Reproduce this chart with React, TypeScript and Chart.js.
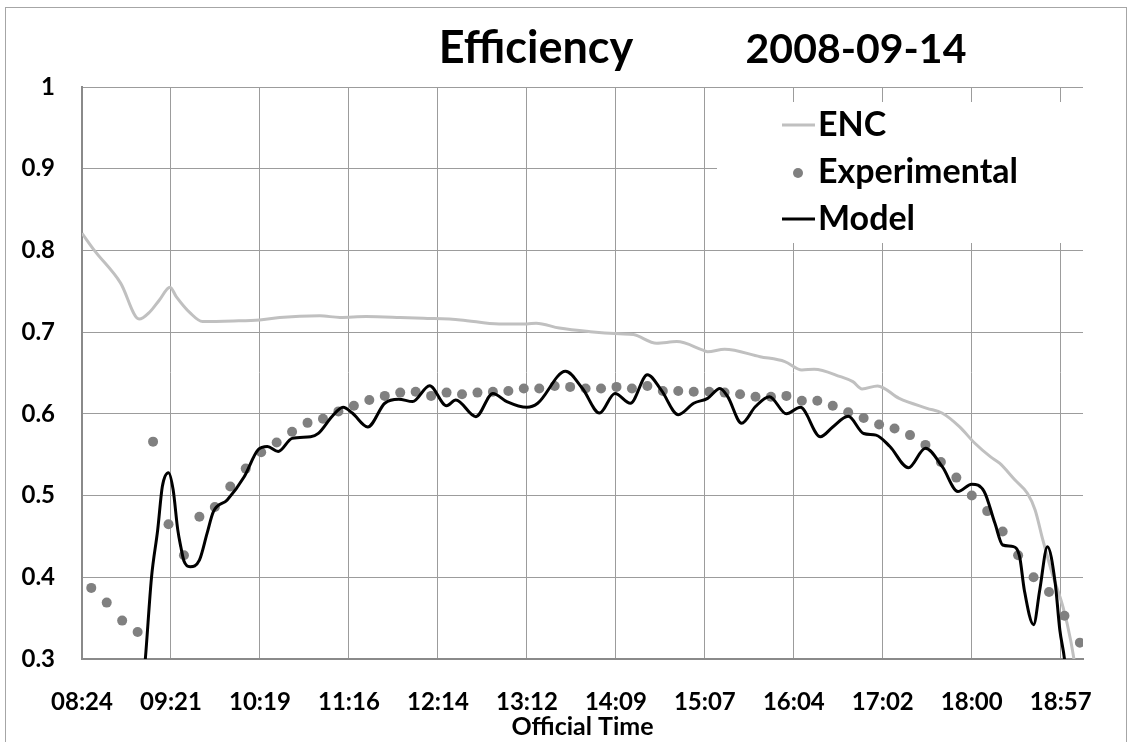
import React, { useEffect, useRef } from 'react';
import { Chart, registerables } from 'chart.js';

Chart.register(...registerables);

const titleLeft = 'Efficiency';
const titleRight = '2008-09-14';
const xAxisTitle = 'Official Time';
const seriesNames = ['ENC', 'Experimental', 'Model'];

const xTickValues = [0.35, 0.39, 0.43, 0.47, 0.51, 0.55, 0.59, 0.63, 0.67, 0.71, 0.75, 0.79];
const xTickLabels = ['08:24', '09:21', '10:19', '11:16', '12:14', '13:12', '14:09', '15:07', '16:04', '17:02', '18:00', '18:57'];
const yTickValues = [0.3, 0.4, 0.5, 0.6, 0.7, 0.8, 0.9, 1];
const yTickLabels = ['0.3', '0.4', '0.5', '0.6', '0.7', '0.8', '0.9', '1'];

const expTimes = [
  '08:30', '08:40', '08:50', '09:00', '09:10', '09:20', '09:30', '09:40', '09:50', '10:00',
  '10:10', '10:20', '10:30', '10:40', '10:50', '11:00', '11:10', '11:20', '11:30', '11:40',
  '11:50', '12:00', '12:10', '12:20', '12:30', '12:40', '12:50', '13:00', '13:10', '13:20',
  '13:30', '13:40', '13:50', '14:00', '14:10', '14:20', '14:30', '14:40', '14:50', '15:00',
  '15:10', '15:20', '15:30', '15:40', '15:50', '16:00', '16:10', '16:20', '16:30', '16:40',
  '16:50', '17:00', '17:10', '17:20', '17:30', '17:40', '17:50', '18:00', '18:10', '18:20',
  '18:30', '18:40', '18:50', '19:00', '19:10',
];
const expValues = [
  0.387, 0.369, 0.347, 0.333, 0.566, 0.465, 0.427, 0.474, 0.486, 0.511,
  0.533, 0.553, 0.565, 0.578, 0.589, 0.594, 0.603, 0.61, 0.617, 0.622,
  0.626, 0.627, 0.622, 0.626, 0.624, 0.626, 0.627, 0.628, 0.631, 0.631,
  0.634, 0.633, 0.631, 0.631, 0.633, 0.631, 0.634, 0.628, 0.628, 0.627,
  0.627, 0.626, 0.624, 0.621, 0.621, 0.622, 0.616, 0.616, 0.61, 0.602,
  0.595, 0.587, 0.582, 0.574, 0.562, 0.541, 0.522, 0.5, 0.481, 0.456,
  0.427, 0.4, 0.382, 0.353, 0.32,
];

const encTimes = [
  '08:24', '08:32', '08:49', '09:01', '09:08', '09:14', '09:21', '09:25', '09:34', '09:42',
  '10:02', '10:19', '10:32', '10:58', '11:11', '11:28', '11:50', '12:05', '12:29', '12:54',
  '13:12', '13:18', '13:33', '13:53', '14:12', '14:21', '14:36', '14:49', '15:06', '15:09',
  '15:20', '15:43', '15:59', '16:10', '16:18', '16:35', '16:43', '16:49', '16:59', '17:13',
  '17:31', '17:41', '17:52', '18:02', '18:12', '18:18', '18:28', '18:36', '18:41', '18:46',
  '18:52', '18:59', '19:04', '19:10',
];
const encValues = [
  0.821, 0.8, 0.76, 0.716, 0.725, 0.739, 0.755, 0.7435, 0.7235, 0.713,
  0.7137, 0.715, 0.718, 0.72, 0.718, 0.719, 0.718, 0.717, 0.715, 0.71,
  0.71, 0.711, 0.705, 0.7006, 0.698, 0.697, 0.6864, 0.6884, 0.678, 0.676,
  0.679, 0.67, 0.664, 0.6537, 0.6546, 0.6455, 0.6394, 0.6305, 0.6342, 0.619,
  0.6068, 0.6007, 0.5843, 0.564, 0.5476, 0.5396, 0.519, 0.5028, 0.4824, 0.4457,
  0.405, 0.364, 0.323, 0.255,
];

const modelTimes = [
  '09:00', '09:05', '09:09', '09:13', '09:16', '09:20', '09:23', '09:26', '09:28', '09:30',
  '09:34', '09:40', '09:45', '09:49', '09:58', '10:09', '10:18', '10:24', '10:31', '10:40',
  '10:52', '10:57', '11:06', '11:13', '11:19', '11:29', '11:40', '11:49', '11:58', '12:09',
  '12:20', '12:26', '12:39', '12:50', '12:59', '13:12', '13:19', '13:37', '13:48', '13:59',
  '14:09', '14:19', '14:30', '14:39', '14:50', '15:00', '15:09', '15:17', '15:22', '15:31',
  '15:40', '15:49', '16:00', '16:09', '16:22', '16:30', '16:40', '16:50', '16:58', '17:07',
  '17:19', '17:30', '17:41', '17:51', '18:00', '18:08', '18:15', '18:20', '18:27', '18:31',
  '18:34', '18:40', '18:44', '18:49', '18:54', '18:57', '19:00', '19:04',
];
const modelValues = [
  0.2, 0.3, 0.4, 0.458, 0.511, 0.528, 0.507, 0.458, 0.437, 0.42,
  0.413, 0.421, 0.454, 0.48, 0.4946, 0.523, 0.556, 0.56, 0.554, 0.57,
  0.572, 0.576, 0.597, 0.608, 0.601, 0.584, 0.613, 0.618, 0.615, 0.6345,
  0.61, 0.617, 0.5966, 0.625, 0.615, 0.608, 0.613, 0.652, 0.631, 0.601,
  0.625, 0.613, 0.648, 0.629, 0.599, 0.613, 0.619, 0.631, 0.621, 0.5885,
  0.609, 0.621, 0.6, 0.608, 0.572, 0.584, 0.597, 0.576, 0.574, 0.56,
  0.534, 0.558, 0.535, 0.505, 0.514, 0.505, 0.466, 0.4395, 0.4375, 0.425,
  0.3845, 0.342, 0.3845, 0.4375, 0.393, 0.3355, 0.3, 0.22,
];

const parseTime = (t: string) => {
  const [h, m] = t.split(':').map(Number);
  return (h * 60 + m) / 1440;
};
const toPoints = (times: string[], values: number[]) =>
  times.map((t, i) => ({ x: parseTime(t), y: values[i] }));

const FONT = 'Lato, "Open Sans", sans-serif';

const framePlugin = {
  id: 'frame',
  beforeDraw(chart: any) {
    const ctx = chart.ctx;
    ctx.save();
    ctx.fillStyle = '#ffffff';
    ctx.fillRect(0, 0, chart.width, chart.height);
    ctx.strokeStyle = '#a6a6a6';
    ctx.lineWidth = 1;
    ctx.strokeRect(5.5, 7.5, 1121, 760);
    ctx.restore();
  },
};

const titlePlugin = {
  id: 'customTitle',
  afterDraw(chart: any) {
    const ctx = chart.ctx;
    ctx.save();
    ctx.fillStyle = '#000';
    ctx.textAlign = 'center';
    ctx.textBaseline = 'alphabetic';
    ctx.font = `bold 45px ${FONT}`;
    ctx.fillText(titleLeft, 536, 63);
    ctx.font = `bold 41px ${FONT}`;
    ctx.fillText(titleRight, 856, 63);
    ctx.restore();
  },
};

const legendPlugin = {
  id: 'customLegend',
  afterDatasetsDraw(chart: any) {
    const ctx = chart.ctx;
    ctx.save();
    ctx.fillStyle = '#ffffff';
    ctx.fillRect(717, 102, 372, 141);
    const rows = [136, 183, 230];
    chart.data.datasets.forEach((ds: any, i: number) => {
      const base = rows[i];
      const mid = base - 11;
      if (ds.showLine === false) {
        ctx.fillStyle = ds.backgroundColor;
        ctx.beginPath();
        ctx.arc(798, mid + 1, 5, 0, Math.PI * 2);
        ctx.fill();
      } else {
        ctx.strokeStyle = ds.borderColor;
        ctx.lineWidth = 3;
        ctx.beginPath();
        ctx.moveTo(782, mid);
        ctx.lineTo(815, mid);
        ctx.stroke();
      }
      ctx.fillStyle = '#000';
      ctx.font = `bold 34px ${FONT}`;
      ctx.textAlign = 'left';
      ctx.textBaseline = 'alphabetic';
      ctx.fillText(ds.label, 818, base);
    });
    ctx.restore();
  },
};

export default function App() {
  const ref = useRef<HTMLCanvasElement | null>(null);

  useEffect(() => {
    document.body.style.margin = '0';
    if (!ref.current) return;
    const chart = new Chart(ref.current, {
      type: 'line',
      data: {
        datasets: [
          {
            label: seriesNames[0],
            data: toPoints(encTimes, encValues),
            borderColor: '#c0c0c0',
            backgroundColor: '#c0c0c0',
            borderWidth: 3,
            pointRadius: 0,
            cubicInterpolationMode: 'monotone',
            order: 3,
          },
          {
            label: seriesNames[1],
            data: toPoints(expTimes, expValues),
            borderColor: '#808080',
            backgroundColor: '#808080',
            showLine: false,
            pointRadius: 5,
            pointBorderWidth: 0,
            order: 2,
          },
          {
            label: seriesNames[2],
            data: toPoints(modelTimes, modelValues),
            borderColor: '#000000',
            backgroundColor: '#000000',
            borderWidth: 3,
            pointRadius: 0,
            cubicInterpolationMode: 'monotone',
            order: 1,
          },
        ] as any,
      },
      options: {
        responsive: false,
        animation: false,
        events: [],
        layout: { padding: { top: 87, right: 46, bottom: 0, left: 0 } },
        plugins: {
          legend: { display: false },
          tooltip: { enabled: false },
          title: { display: false },
        },
        scales: {
          x: {
            type: 'linear',
            min: 0.35,
            max: 0.8,
            afterBuildTicks: (s: any) => {
              s.ticks = xTickValues.map((v) => ({ value: v }));
            },
            afterFit: (s: any) => {
              s.height = 83;
            },
            ticks: {
              callback: (_v: any, i: number) => xTickLabels[i],
              font: { family: FONT, weight: 'bold', size: 24 },
              color: '#000',
              padding: 29,
              maxRotation: 0,
              autoSkip: false,
            },
            grid: { color: '#9c9c9c', lineWidth: 1, drawTicks: false },
            border: { color: '#8a8a8a', width: 2 },
            title: {
              display: true,
              text: xAxisTitle,
              font: { family: FONT, weight: 'bold', size: 25 },
              color: '#000',
              padding: { top: 0, bottom: 0 },
            },
          },
          y: {
            type: 'linear',
            min: 0.3,
            max: 1,
            afterBuildTicks: (s: any) => {
              s.ticks = yTickValues.map((v) => ({ value: v }));
            },
            afterFit: (s: any) => {
              s.width = 82;
            },
            ticks: {
              callback: (_v: any, i: number) => yTickLabels[i],
              font: { family: FONT, weight: 'bold', size: 24 },
              color: '#000',
              padding: 27,
              autoSkip: false,
            },
            grid: { color: '#9c9c9c', lineWidth: 1, drawTicks: false },
            border: { color: '#8a8a8a', width: 2 },
          },
        },
      } as any,
      plugins: [framePlugin, titlePlugin, legendPlugin],
    });
    return () => chart.destroy();
  }, []);

  return (
    <div style={{ width: 1129, height: 742 }}>
      <canvas ref={ref} width={1129} height={742} style={{ display: 'block' }} />
    </div>
  );
}
